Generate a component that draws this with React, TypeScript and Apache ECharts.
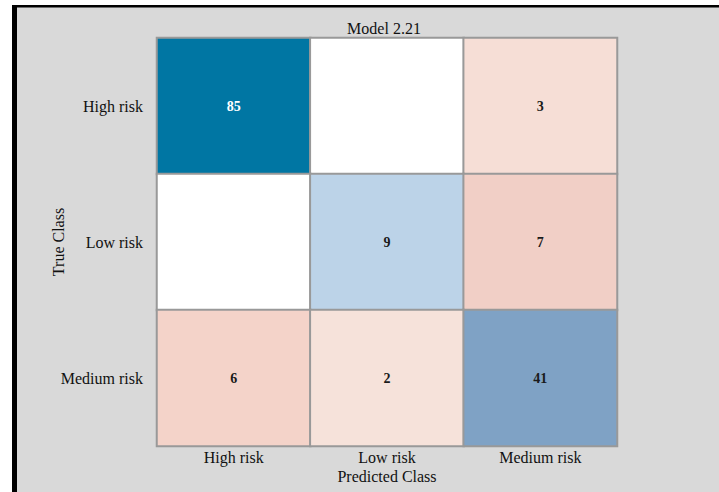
import React, { useEffect, useRef } from "react";
import * as echarts from "echarts";

const predictedClasses = ["High risk", "Low risk", "Medium risk"];
const trueClasses = ["High risk", "Low risk", "Medium risk"];
// rows = true class, columns = predicted class
const rowHighRisk = [85, 0, 3];
const rowLowRisk = [0, 9, 7];
const rowMediumRisk = [6, 2, 41];
const matrixRows = [rowHighRisk, rowLowRisk, rowMediumRisk];

const titleText = "Model 2.21";
const xName = "Predicted Class";
const yName = "True Class";

// colour scales: correct predictions (diagonal) in blue, errors in red
const blueStops: [number, string][] = [
  [0, "#ffffff"],
  [9, "#bcd3e8"],
  [41, "#7fa2c5"],
  [85, "#0076a3"],
];
const redStops: [number, string][] = [
  [0, "#ffffff"],
  [2, "#f6e2da"],
  [3, "#f6ded6"],
  [6, "#f4d3c9"],
  [7, "#f1cfc6"],
];

function scaleColor(v: number, stops: [number, string][]): string {
  if (v <= stops[0][0]) return stops[0][1];
  for (let i = 1; i < stops.length; i++) {
    if (v <= stops[i][0]) {
      const [a, ca] = stops[i - 1];
      const [b, cb] = stops[i];
      const t = (v - a) / (b - a);
      return echarts.color.lerp(t, [ca, cb]) as string;
    }
  }
  return stops[stops.length - 1][1];
}

const FONT = "'Liberation Serif', 'Times New Roman', serif";

export default function App() {
  const ref = useRef<HTMLDivElement>(null);
  useEffect(() => {
    if (!ref.current) return;
    const chart = echarts.init(ref.current, null, { renderer: "svg" });
    const data: any[] = [];
    matrixRows.forEach((row, r) => {
      row.forEach((v, c) => {
        const diag = r === c;
        data.push({
          value: [c, r, v],
          itemStyle: { color: scaleColor(v, diag ? blueStops : redStops) },
          label: { color: diag && v > 60 ? "#ffffff" : "#1a1a1a" },
        });
      });
    });
    chart.setOption({
      animation: false,
      backgroundColor: "#ffffff",
      graphic: [
        { type: "rect", z: -10, shape: { x: 17, y: 7, width: 702, height: 485 }, style: { fill: "#d9d9d9" }, silent: true },
        { type: "rect", z: -9, shape: { x: 12, y: 5, width: 5, height: 487 }, style: { fill: "#000000" }, silent: true },
        { type: "rect", z: -9, shape: { x: 12, y: 5, width: 707, height: 2.5 }, style: { fill: "#000000" }, silent: true },
      ],
      title: {
        text: titleText,
        left: 379,
        top: 15,
        textAlign: "center",
        textStyle: { fontFamily: FONT, fontSize: 16, fontWeight: "normal", color: "#111" },
      },
      grid: { left: 157, top: 38, width: 460, height: 408 },
      visualMap: {
        show: false,
        type: "continuous",
        min: 0,
        max: 85,
        dimension: 2,
        seriesIndex: 0,
        inRange: { opacity: 1 },
        outOfRange: { opacity: 1 },
      },
      xAxis: {
        type: "category",
        data: predictedClasses,
        position: "bottom",
        axisLine: { show: false },
        axisTick: { show: false },
        splitLine: { show: false },
        axisLabel: { fontFamily: FONT, fontSize: 16, lineHeight: 14, color: "#111", margin: 4 },
        name: xName,
        nameLocation: "middle",
        nameGap: 23,
        nameMoveOverlap: false,
        nameTextStyle: { fontFamily: FONT, fontSize: 16, lineHeight: 14, color: "#111" },
      },
      yAxis: {
        type: "category",
        data: trueClasses,
        inverse: true,
        axisLine: { show: false },
        axisTick: { show: false },
        splitLine: { show: false },
        axisLabel: { fontFamily: FONT, fontSize: 16, color: "#111", margin: 14 },
        name: yName,
        nameLocation: "middle",
        nameGap: 91,
        nameRotate: 90,
        nameMoveOverlap: false,
        nameTextStyle: { fontFamily: FONT, fontSize: 16, color: "#111" },
      },
      series: [
        {
          type: "heatmap",
          data,
          itemStyle: { borderColor: "#999999", borderWidth: 2 },
          label: {
            show: true,
            fontFamily: FONT,
            fontSize: 14,
            fontWeight: "bold",
            formatter: (p: any) => (p.value[2] === 0 ? "" : String(p.value[2])),
          },
          emphasis: { disabled: true },
        },
      ],
    });
    return () => chart.dispose();
  }, []);
  return (
    <div
      ref={ref}
      style={{ position: "absolute", left: 0, top: 0, width: 719, height: 492 }}
    />
  );
}
